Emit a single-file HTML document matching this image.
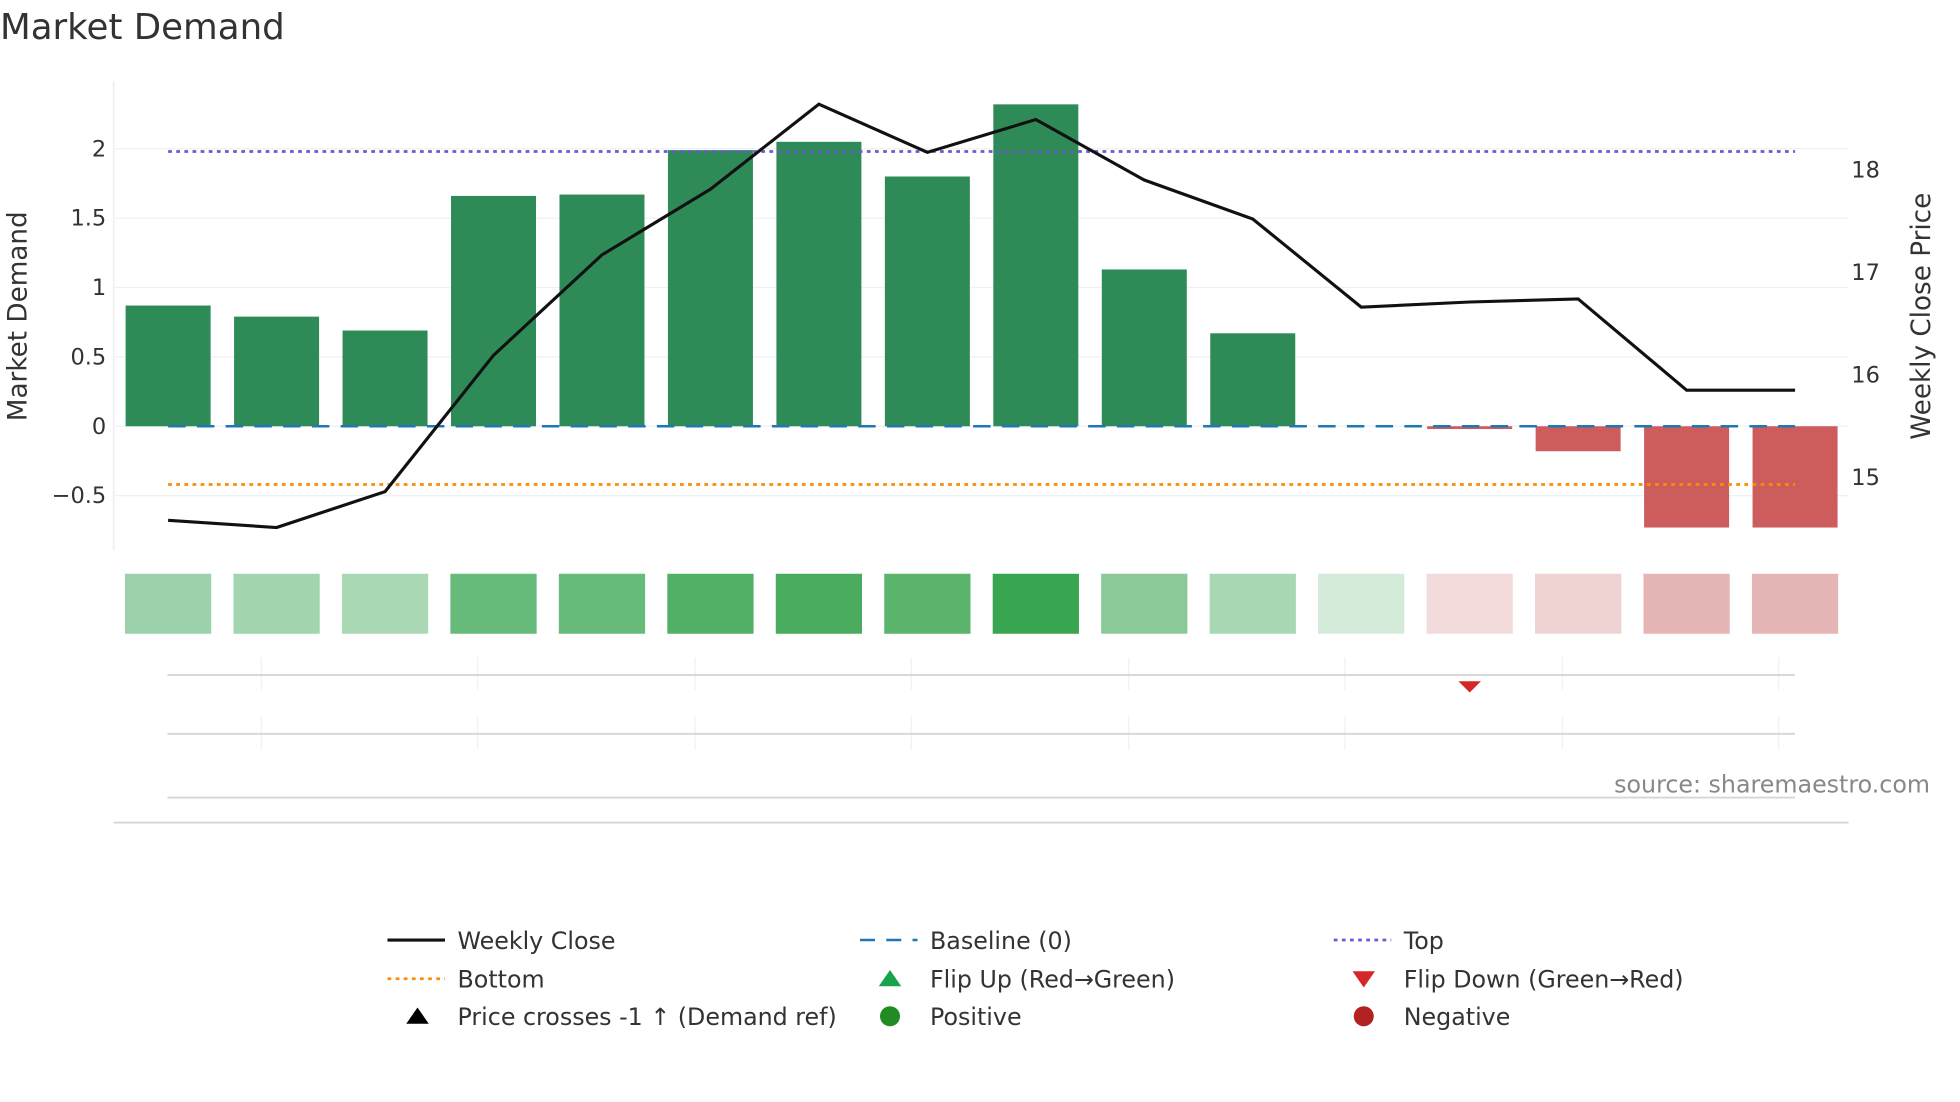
<!DOCTYPE html>
<html><head><meta charset="utf-8"><style>
html,body{margin:0;padding:0;background:#fff;}
svg{display:block;font-family:"DejaVu Sans","Liberation Sans",sans-serif;}
</style></head><body>
<svg id="chart" width="1960" height="1102" viewBox="0 0 1568 881.6" xmlns="http://www.w3.org/2000/svg">
<text x="0" y="31" font-size="28.5" fill="#333">Market Demand</text>
<g id="grid"></g>
<g id="bars"></g>
<g id="refs"></g>
<g id="line"></g>
<g id="tiles"></g>
<g id="lower"></g>
<g id="axes"></g>
<text transform="translate(21,253) rotate(-90)" text-anchor="middle" font-size="21" fill="#333">Market Demand</text>
<text transform="translate(1544,253) rotate(-90)" text-anchor="middle" font-size="21" fill="#333">Weekly Close Price</text>
<text x="1544" y="634" text-anchor="end" font-size="19" fill="#888">source: sharemaestro.com</text>
<g id="legend" font-size="19" fill="#333"></g>
</svg>
<script>
const categories = ["W1","W2","W3","W4","W5","W6","W7","W8","W9","W10","W11","W12","W13","W14","W15","W16"];
const demand = [0.87,0.79,0.69,1.66,1.67,1.99,2.05,1.80,2.32,1.13,0.67,0,-0.02,-0.18,-0.73,-0.73];
const closePrice = [14.57,14.50,14.85,16.18,17.16,17.80,18.63,18.16,18.48,17.89,17.51,16.65,16.70,16.73,15.84,15.84];
const tileColors = ["#9bd1ab","#a2d4ae","#aad8b4","#66ba7a","#66ba7a","#52af66","#4aab5f","#5ab46c","#38a651","#8bca98","#a8d8b3","#d4ebd9","#f3dbdb","#efd2d2","#e5b4b4","#e5b4b4"];
const leftTicks = [-0.5,0,0.5,1,1.5,2];
const leftTickLabels = ["\u22120.5","0","0.5","1","1.5","2"];
const rightTicks = [15,16,17,18];
const topLevel = 1.98;
const bottomLevel = -0.42;
const flipDownIdx = [12];

const NS="http://www.w3.org/2000/svg";
function mk(tag,attrs,parent){const e=document.createElementNS(NS,tag);for(const k in attrs)e.setAttribute(k,attrs[k]);parent.appendChild(e);return e;}
const xPos = i => 134.5 + i*86.77;
const yL = v => 341 - v*111;
const yR = v => 135 + (18-v)*82;
const bw = 68;
const G=id=>document.getElementById(id);

leftTicks.forEach((t,i)=>{
  const l=mk('line',{x1:91,x2:1479,y1:yL(t),y2:yL(t),stroke:'#eef0f3','stroke-width':1},G('grid'));
  
  
  const tx=mk('text',{x:85,y:yL(t)+6,'text-anchor':'end','font-size':18,fill:'#333'},G('axes'));
  tx.textContent=leftTickLabels[i];
  
  
});
rightTicks.forEach(t=>{
  const tx=mk('text',{x:1481,y:yR(t)+7,'font-size':18,fill:'#333'},G('axes'));
  tx.textContent=String(t);
  
  
});
const ax=mk('line',{x1:91,x2:91,y1:65,y2:440,stroke:'#eef0f3','stroke-width':1.5},G('axes'));



demand.forEach((v,i)=>{
  const y0=yL(0), y1=yL(v);
  const r=mk('rect',{x:xPos(i)-bw/2,y:Math.min(y0,y1),width:bw,height:Math.max(Math.abs(y1-y0),v===0?0:1.5),fill:v>=0?'#2e8b57':'#cd5c5c'},G('bars'));
  
  
});

const x0=xPos(0), xN=xPos(categories.length-1);
let e=mk('line',{x1:x0,x2:xN,y1:yL(topLevel),y2:yL(topLevel),stroke:'#6a5acd','stroke-width':2.2,'stroke-dasharray':'3 3.5'},G('refs'));


e=mk('line',{x1:x0,x2:xN,y1:yL(bottomLevel),y2:yL(bottomLevel),stroke:'#ff8c00','stroke-width':2.2,'stroke-dasharray':'3 3.5'},G('refs'));


e=mk('line',{x1:x0,x2:xN,y1:yL(0),y2:yL(0),stroke:'#1f77b4','stroke-width':2,'stroke-dasharray':'14 9'},G('refs'));



const pts=closePrice.map((v,i)=>xPos(i)+','+yR(v)).join(' ');
e=mk('polyline',{points:pts,fill:'none',stroke:'#111','stroke-width':2.5},G('line'));



tileColors.forEach((c,i)=>{
  const r=mk('rect',{x:xPos(i)-34.5,y:459,width:69,height:48,fill:c},G('tiles'));
  
  
});

[209,382,556,729,903,1076,1250,1423].forEach(x=>{
  [[526,552],[573,600]].forEach(([a,b])=>{
    const l=mk('line',{x1:x,x2:x,y1:a,y2:b,stroke:'#f0f1f3','stroke-width':1},G('lower'));
    
    
  });
});
[[134,1436,540],[134,1436,587],[134,1436,638],[91,1479,658]].forEach(([a,b,y])=>{
  const l=mk('line',{x1:a,x2:b,y1:y,y2:y,stroke:'#d6d6d6','stroke-width':1.5},G('lower'));
  
  
});
flipDownIdx.forEach(i=>{
  const x=xPos(i);
  const p=mk('polygon',{points:`${x-9},545 ${x+9},545 ${x},554`,fill:'#d62728'},G('lower'));
  
  
});

const lg=G('legend');
function ltext(x,y,s,name){const t=mk('text',{x:x,y:y+7},lg);t.textContent=s;}
function lline(x,y,stroke,dash,w,name){const l=mk('line',{x1:x,x2:x+46,y1:y,y2:y,stroke:stroke,'stroke-width':w,'stroke-dasharray':dash},lg);}
function ltri(x,y,c,up,name){const p=mk('polygon',{points:up?`${x-9},${y+6} ${x+9},${y+6} ${x},${y-7}`:`${x-9},${y-6} ${x+9},${y-6} ${x},${y+7}`,fill:c},lg);}
function ldot(x,y,c,name){const p=mk('ellipse',{cx:x,cy:y,rx:8,ry:8,fill:c},lg);}
lline(310,752,'#111','none',2.5,'legend-symbol-weekly-close'); ltext(366,752,'Weekly Close','legend-weekly-close');
lline(688,752,'#1f77b4','12 9',2,'legend-symbol-baseline'); ltext(744,752,'Baseline (0)','legend-baseline');
lline(1067,752,'#6a5acd','3 3.5',2.2,'legend-symbol-top'); ltext(1123,752,'Top','legend-top');
lline(310,783,'#ff8c00','3 3.5',2.2,'legend-symbol-bottom'); ltext(366,783,'Bottom','legend-bottom');
ltri(712,783,'#16a34a',true,'legend-symbol-flip-up'); ltext(744,783,'Flip Up (Red\u2192Green)','legend-flip-up');
ltri(1091,783,'#d62728',false,'legend-symbol-flip-down'); ltext(1123,783,'Flip Down (Green\u2192Red)','legend-flip-down');
ltri(334,813,'#000',true,'legend-symbol-price-cross'); ltext(366,813,'Price crosses -1 \u2191 (Demand ref)','legend-price-cross');
ldot(712,813,'#228b22','legend-symbol-positive'); ltext(744,813,'Positive','legend-positive');
ldot(1091,813,'#b22222','legend-symbol-negative'); ltext(1123,813,'Negative','legend-negative');
</script>
</body></html>
